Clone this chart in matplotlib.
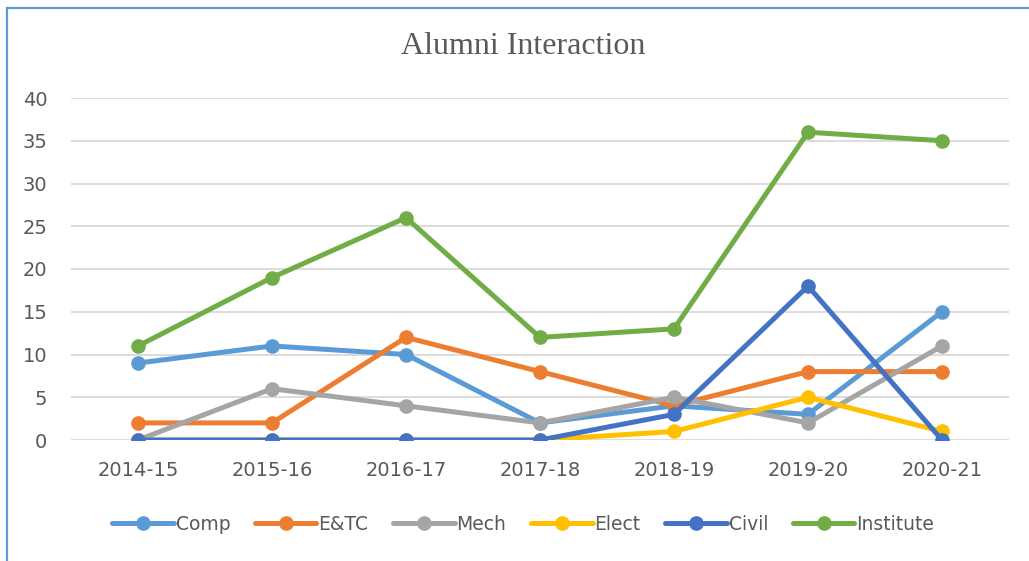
import matplotlib
matplotlib.use("Agg")
import matplotlib.pyplot as plt
from matplotlib.lines import Line2D

years = ["2014-15", "2015-16", "2016-17", "2017-18", "2018-19", "2019-20", "2020-21"]
comp = [9, 11, 10, 2, 4, 3, 15]
etc = [2, 2, 12, 8, 4, 8, 8]
mech = [0, 6, 4, 2, 5, 2, 11]
elect = [0, 0, 0, 0, 1, 5, 1]
civil = [0, 0, 0, 0, 3, 18, 0]
institute = [11, 19, 26, 12, 13, 36, 35]

series = [("Comp", comp, "#5B9BD5"), ("E&TC", etc, "#ED7D31"), ("Mech", mech, "#A5A5A5"),
          ("Elect", elect, "#FFC000"), ("Civil", civil, "#4472C4"), ("Institute", institute, "#70AD47")]

TXT = "#595959"
fig = plt.figure(figsize=(10.29, 5.61), dpi=100)
ax = fig.add_axes([71/1029, 121/561, 938/1029, 342/561])
x = range(len(years))
for name, vals, col in series:
    ax.plot(x, vals, color=col, lw=3.6, marker="o", ms=9.5, label=name, solid_capstyle="round")

ax.set_xlim(-0.5, len(years) - 0.5)
ax.set_ylim(0, 40)
ax.set_yticks(range(0, 41, 5))
ax.set_xticks(list(x))
ax.set_xticklabels(years)
ax.tick_params(length=0, labelsize=14, labelcolor=TXT)
ax.tick_params(axis="y", pad=17)
ax.tick_params(axis="x", pad=15)
ax.grid(axis="y", color="#D9D9D9", lw=1.3)
ax.set_axisbelow(True)
for s in ax.spines.values():
    s.set_visible(False)

fig.text(523/1029, 1 - 47/561, "Alumni Interaction", family="Liberation Serif",
         fontsize=23, color=TXT, ha="center", va="center")

leg = fig.legend(loc="center", bbox_to_anchor=(523/1029, 1 - 524/561), ncol=6, frameon=False,
                 fontsize=13.5, handlelength=3.3, columnspacing=1.3, handletextpad=0.1)
for t in leg.get_texts():
    t.set_color(TXT)

fig.add_artist(Line2D([7/1029, 7/1029], [0, 1 - 8/561], color="#5B9BD5", lw=1.6,
                      transform=fig.transFigure))
fig.add_artist(Line2D([7/1029, 1], [1 - 8/561, 1 - 8/561], color="#5B9BD5", lw=1.6,
                      transform=fig.transFigure))

fig.savefig("out.png", dpi=100)
